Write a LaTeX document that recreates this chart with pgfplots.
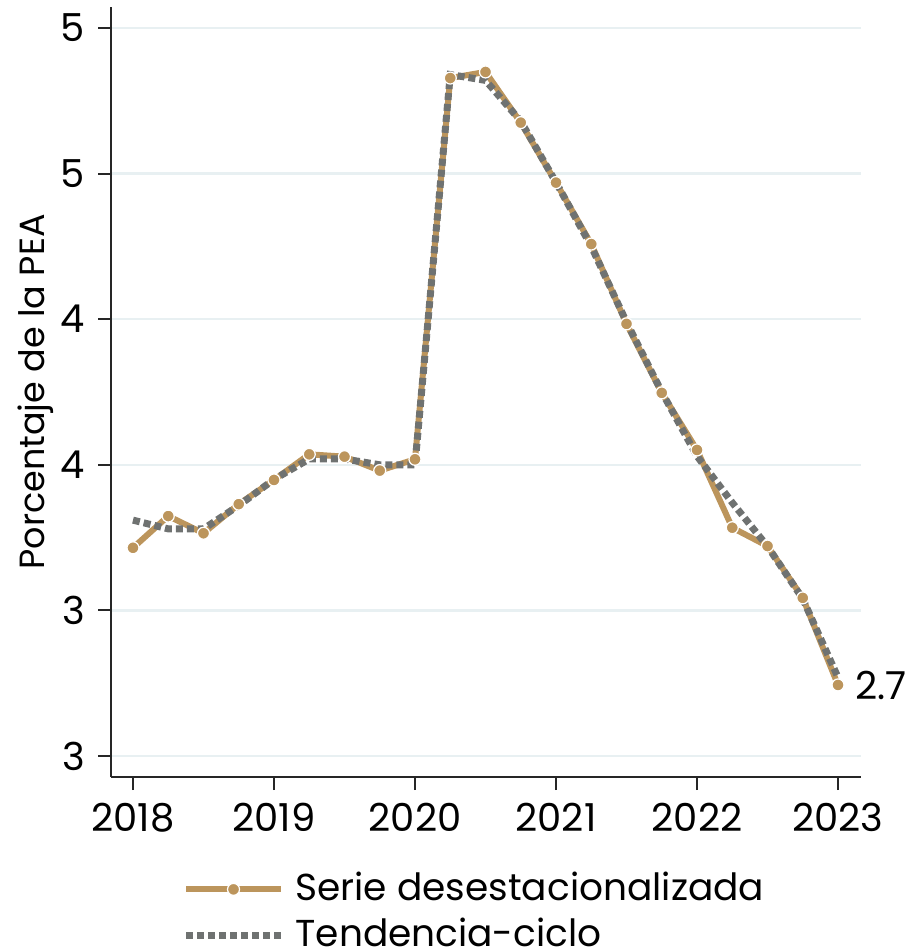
\documentclass[border=0pt]{standalone}
\usepackage{fontspec}
\setmainfont{Poppins}
\usepackage{pgfplots}
\pgfplotsset{compat=1.18}
\definecolor{oro}{HTML}{BC955C}
\definecolor{gris}{HTML}{6F7271}
\definecolor{rejilla}{HTML}{E8F0F2}

\begin{document}
\fontsize{15.4}{18}\selectfont
\begin{tikzpicture}
\begin{axis}[
  name=ax,
  scale only axis,
  width=300pt, height=308pt,
  xmin=2017.844, xmax=2023.163,
  ymin=2.428, ymax=5.072,
  clip=false,
  axis x line*=bottom, axis y line*=left,
  axis line style={-, line width=0.8pt, black!85},
  xtick={2018,2019,2020,2021,2022,2023},
  xticklabels={2018,2019,2020,2021,2022,2023},
  ytick={2.5,3,3.5,4,4.5,5},
  yticklabels={3,3,4,4,5,5},
  tick align=outside,
  major tick length=5.2pt,
  tick style={line width=0.8pt, black!85},
  ymajorgrids,
  grid style={rejilla, line width=1pt},
  ylabel={Porcentaje de la PEA},
  every axis y label/.style={at={(axis description cs:-0.101,0.5)}, rotate=90, anchor=center, font=\fontsize{14}{16}\selectfont},
  legend style={at={(axis description cs:0.0947,-0.1165)}, anchor=north west,
    draw=none, fill=none, inner sep=0pt, row sep=0.6pt,
    font=\fontsize{15}{18}\selectfont,
    cells={anchor=west},
    /tikz/every odd column/.append style={column sep=2.4pt}},
  legend cell align=left,
  legend image code/.code={\draw[#1, mark repeat=2, mark phase=2] plot coordinates {(0pt,0pt) (19pt,0pt) (38pt,0pt)};},
]
% serie desestacionalizada
\addplot[oro, line width=2.4pt, mark=*, mark size=2.4pt,
  mark options={fill=oro, draw=white, line width=0.5pt}] coordinates {
  (2018.00,3.215) (2018.25,3.324) (2018.50,3.265) (2018.75,3.365)
  (2019.00,3.448) (2019.25,3.536) (2019.50,3.528) (2019.75,3.480)
  (2020.00,3.519) (2020.25,4.828) (2020.50,4.849) (2020.75,4.675)
  (2021.00,4.469) (2021.25,4.258) (2021.50,3.984) (2021.75,3.747)
  (2022.00,3.551) (2022.25,3.284) (2022.50,3.221) (2022.75,3.043)
  (2023.00,2.744)
};
\addlegendentry{Serie desestacionalizada}
% tendencia-ciclo
\addplot[gris, line width=2.8pt, dash pattern=on 2.8pt off 1.6pt] coordinates {
  (2018.00,3.31) (2018.25,3.28) (2018.50,3.28) (2018.75,3.36)
  (2019.00,3.45) (2019.25,3.52) (2019.50,3.52) (2019.75,3.50)
  (2020.00,3.50) (2020.25,4.84) (2020.50,4.82) (2020.75,4.68)
  (2021.00,4.47) (2021.25,4.25) (2021.50,3.99) (2021.75,3.75)
  (2022.00,3.53) (2022.25,3.37) (2022.50,3.22) (2022.75,3.04)
  (2023.00,2.77)
};
\addlegendentry{Tendencia-ciclo}
\node[anchor=west, inner sep=0pt, xshift=6.8pt] at (axis cs:2023,2.744) {2.7};
\end{axis}
\pgfresetboundingbox
\path[use as bounding box] ([shift={(-44.4pt,-70pt)}]ax.south west) rectangle ([shift={(318.8pt,310.8pt)}]ax.south west);
\end{tikzpicture}
\end{document}
